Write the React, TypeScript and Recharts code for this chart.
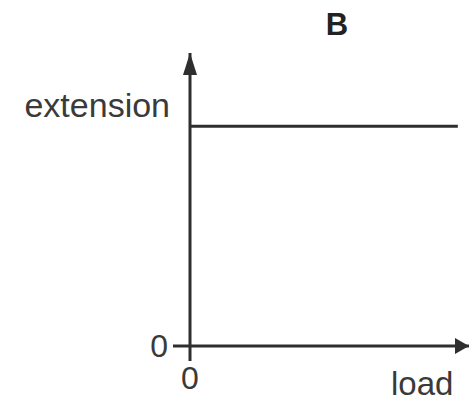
import React from 'react'
import { LineChart, Line, XAxis, YAxis } from 'recharts'

// graph B: extension stays constant as load grows
const loads = [0, 9.6]
const extensions = [7.5, 7.5]
const axisTicks = [0]
const title = 'B'
const yLabel = 'extension'
const xLabel = 'load'

const data = loads.map((load, i) => ({ load, extension: extensions[i] }))

const ink = '#2e2e2e'
const textInk = '#3a3a3a'
const font = '"Liberation Sans", Arial, sans-serif'
const tick = { fill: textInk, fontSize: 32, fontFamily: font }

const W = 469
const H = 401

export default function App() {
  return (
    <div style={{ position: 'absolute', left: 0, top: 0, width: W, height: H, background: '#fff', fontFamily: font }}>
      <LineChart width={W} height={H} data={data} margin={{ top: 53, right: 0, bottom: 0, left: 0 }}>
        <defs>
          <marker id="arrowY" viewBox="0 0 22 14" refX={22} refY={7} markerWidth={22} markerHeight={14}
            markerUnits="userSpaceOnUse" orient="auto-start-reverse">
            <path d="M0,0 L22,7 L0,14 z" fill={ink} />
          </marker>
          <marker id="arrowX" viewBox="0 0 14 16" refX={14} refY={8} markerWidth={14} markerHeight={16}
            markerUnits="userSpaceOnUse" orient="auto-start-reverse">
            <path d="M0,0 L14,8 L0,16 z" fill={ink} />
          </marker>
        </defs>
        <XAxis
          dataKey="load"
          type="number"
          domain={[0, 10]}
          ticks={axisTicks}
          height={55}
          tick={tick}
          tickSize={15}
          tickMargin={5}
          axisLine={{ stroke: ink, strokeWidth: 3, markerEnd: 'url(#arrowX)' }}
          tickLine={{ stroke: ink, strokeWidth: 3 }}
        />
        <YAxis
          type="number"
          domain={[0, 10]}
          ticks={axisTicks}
          width={190}
          tick={tick}
          tickSize={17}
          tickMargin={5}
          axisLine={{ stroke: ink, strokeWidth: 3, markerStart: 'url(#arrowY)' }}
          tickLine={{ stroke: ink, strokeWidth: 3 }}
        />
        <Line type="linear" dataKey="extension" stroke={ink} strokeWidth={3} dot={false} isAnimationActive={false} />
      </LineChart>

      <div style={{ position: 'absolute', left: 317, top: 9, width: 40, textAlign: 'center', fontSize: 31, fontWeight: 700, lineHeight: 1, color: '#222' }}>
        {title}
      </div>
      <div style={{ position: 'absolute', left: 0, top: 88, width: 170, textAlign: 'right', fontSize: 34, lineHeight: 1, color: textInk }}>
        {yLabel}
      </div>
      <div style={{ position: 'absolute', left: 391, top: 367, fontSize: 33, lineHeight: 1, color: textInk }}>
        {xLabel}
      </div>
    </div>
  )
}
